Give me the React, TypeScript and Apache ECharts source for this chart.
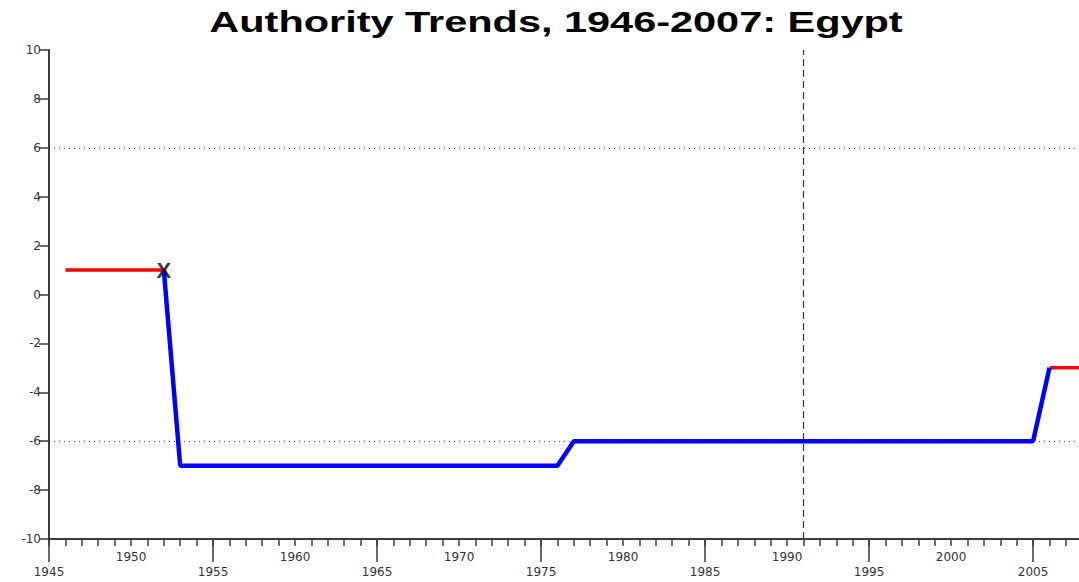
import React, { useEffect, useRef } from "react";
import * as echarts from "echarts";

const TITLE = "Authority Trends, 1946-2007: Egypt";
const X_MIN = 1945;
const X_MAX = 2007.8;
const Y_MIN = -10;
const Y_MAX = 10;
const Y_INTERVAL = 2;

// Axis tick positions
const minorTickYears = Array.from({ length: 63 }, (_, i) => 1945 + i);
const upperLabelYears = [1950, 1960, 1970, 1980, 1990, 2000];
const lowerLabelYears = [1945, 1955, 1965, 1975, 1985, 1995, 2005];

// Red (pre/post) segments
const redStartYears = [1946, 1952];
const redStartValues = [1, 1];
const redEndYears = [2006, 2008];
const redEndValues = [-3, -3];

// Blue polity line
const blueYears = [1952, 1953, 1976, 1977, 2005, 2006];
const blueValues = [1, -7, -7, -6, -6, -3];

// Regime change marker
const markerYears = [1952];
const markerValues = [1];

// Reference lines
const dottedLevels = [6, -6];
const dashedYears = [1991];

const zip = (xs: number[], ys: number[]) => xs.map((x, i) => [x, ys[i]]);

export default function App() {
  const ref = useRef<HTMLDivElement>(null);
  useEffect(() => {
    if (!ref.current) return;
    const chart = echarts.init(ref.current, null, { renderer: "svg" });
    const font = "DejaVu Sans, Liberation Sans, Arial, sans-serif";
    const titleFont = "Liberation Sans, Arial, sans-serif";
    const axisColor = "#3a3a3a";
    chart.setOption({
      animation: false,
      backgroundColor: "#fff",
      textStyle: { fontFamily: font },
      graphic: [
        {
          type: "text",
          x: 556,
          y: 8,
          scaleX: 1.43,
          z: 10,
          style: {
            text: TITLE,
            font: `bold 29px ${titleFont}`,
            fill: "#000",
            textAlign: "center",
            textVerticalAlign: "top",
          },
        },
      ],
      grid: { left: 49, right: 0, top: 50, bottom: 43, containLabel: false },
      xAxis: [
        {
          type: "value",
          min: X_MIN,
          max: X_MAX,
          interval: 1,
          axisLine: { show: true, onZero: false, lineStyle: { color: axisColor, width: 2 } },
          axisTick: {
            show: true,
            length: 7,
            customValues: minorTickYears,
            lineStyle: { color: axisColor, width: 1.5 },
          },
          splitLine: { show: false },
          axisLabel: {
            margin: 12,
            fontSize: 12,
            color: "#333",
            fontFamily: font,
            customValues: upperLabelYears,
            formatter: (v: number) => String(v),
          },
        },
        {
          type: "value",
          min: X_MIN,
          max: X_MAX,
          interval: 1,
          position: "bottom",
          axisLine: { show: false, onZero: false },
          axisTick: {
            show: true,
            length: 23,
            customValues: lowerLabelYears,
            lineStyle: { color: axisColor, width: 1.5 },
          },
          splitLine: { show: false },
          axisLabel: {
            margin: 27,
            fontSize: 12,
            color: "#333",
            fontFamily: font,
            customValues: lowerLabelYears,
            formatter: (v: number) => String(v),
          },
        },
      ],
      yAxis: {
        type: "value",
        min: Y_MIN,
        max: Y_MAX,
        interval: Y_INTERVAL,
        axisLine: { show: true, onZero: false, lineStyle: { color: axisColor, width: 2 } },
        axisTick: { show: true, length: 10, lineStyle: { color: axisColor, width: 1.5 } },
        splitLine: { show: false },
        axisLabel: { margin: 8, fontSize: 12, color: "#333", fontFamily: font },
      },
      series: [
        {
          type: "line",
          data: zip(redStartYears, redStartValues),
          symbol: "none",
          lineStyle: { color: "#ff0000", width: 3.5 },
          z: 3,
          markLine: {
            silent: true,
            symbol: "none",
            label: { show: false },
            lineStyle: { color: "#333", type: [1, 4], width: 1 },
            data: dottedLevels.map((v) => ({ yAxis: v })),
          },
        },
        {
          type: "line",
          data: zip(redEndYears, redEndValues),
          symbol: "none",
          lineStyle: { color: "#ff0000", width: 3.5 },
          z: 3,
          markLine: {
            silent: true,
            symbol: "none",
            label: { show: false },
            lineStyle: { color: "#333", type: [7, 4], width: 1.2 },
            data: dashedYears.map((v) => ({ xAxis: v })),
          },
        },
        {
          type: "line",
          data: zip(blueYears, blueValues),
          symbol: "none",
          lineStyle: { color: "#0000ff", width: 4.5 },
          z: 4,
        },
        {
          type: "scatter",
          data: zip(markerYears, markerValues),
          symbolSize: 0,
          z: 5,
          label: {
            show: true,
            position: "inside",
            formatter: "X",
            fontSize: 22,
            fontWeight: "bold",
            color: "#000",
            fontFamily: titleFont,
          },
        },
      ],
    });
    return () => chart.dispose();
  }, []);
  return (
    <div
      ref={ref}
      style={{ position: "fixed", left: 0, top: 0, width: 1079, height: 582, background: "#fff" }}
    />
  );
}
